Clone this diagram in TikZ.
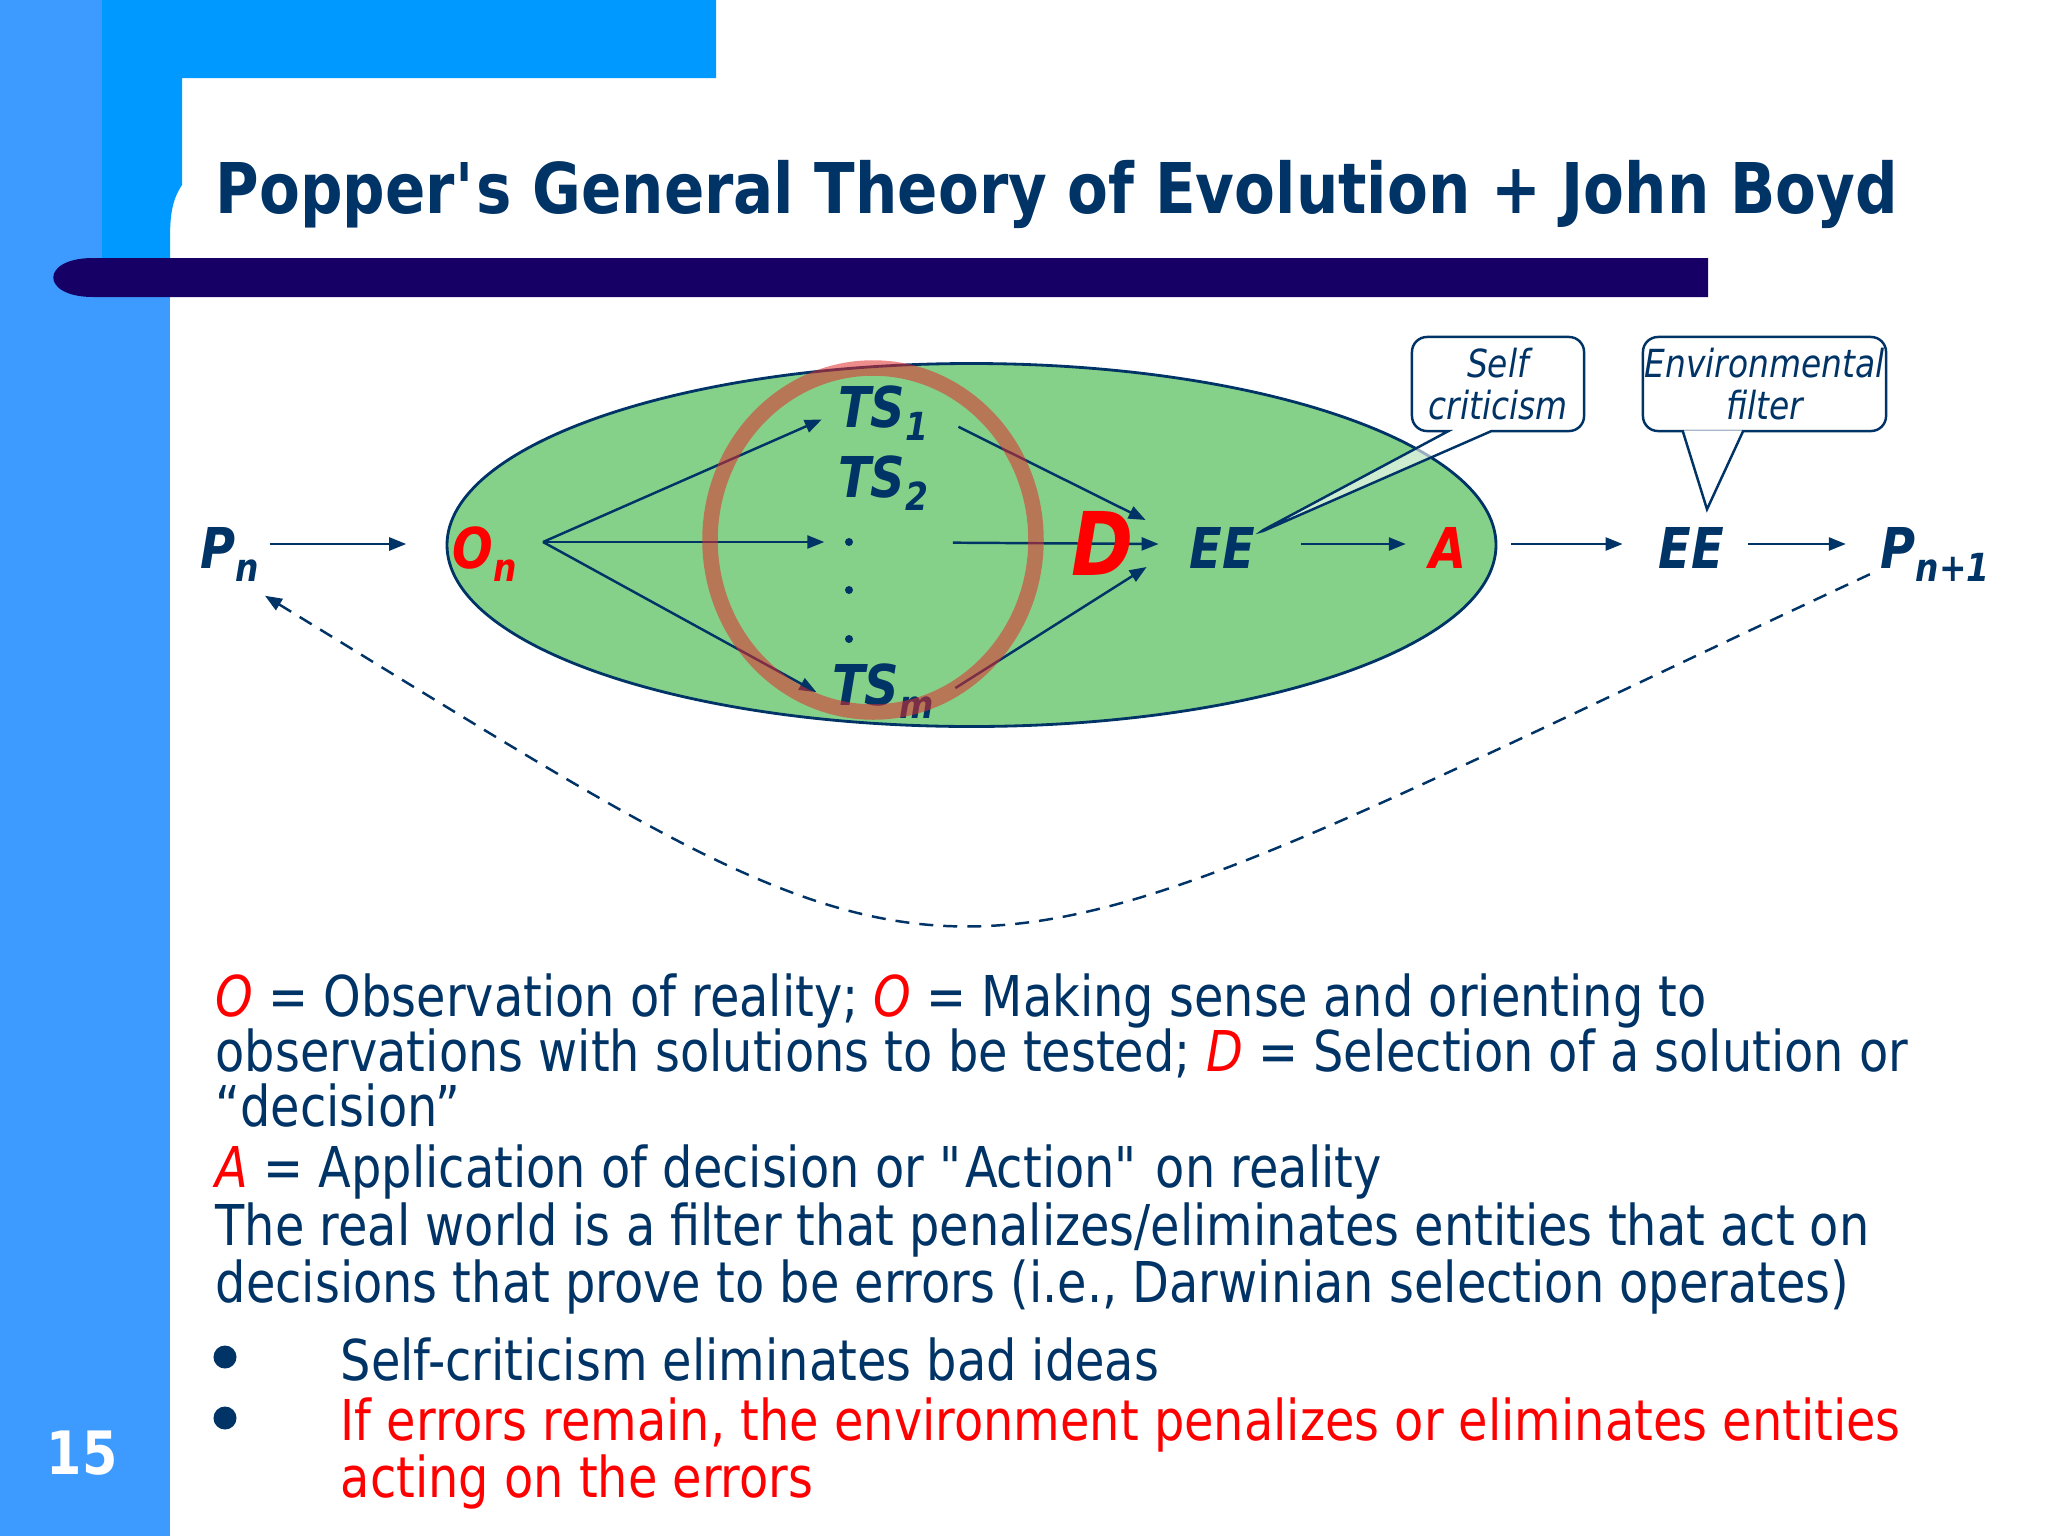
\documentclass[tikz,border=0pt]{standalone}
\usepackage{fontspec}
\setmainfont{DejaVu Sans}[FakeStretch=0.85]
\usetikzlibrary{arrows.meta,calc,shapes.callouts}

\definecolor{slidenavy}{HTML}{003366}
\definecolor{slidered}{HTML}{FF0000}
\definecolor{barindigo}{HTML}{160066}
\definecolor{stripblue}{HTML}{3D9BFF}
\definecolor{topblue}{HTML}{0099FF}
\definecolor{leafgreen}{HTML}{86D18A}
\definecolor{ringred}{RGB}{225,45,45}

\newcommand{\lowsub}[1]{\raisebox{-0.24em}{\fontsize{11}{12}\selectfont #1}}

\begin{document}
\begin{tikzpicture}[x=0.01cm,y=-0.01cm,>={Triangle[length=0.17cm,width=0.13cm]}]
	\tikzstyle{term} = [text=slidenavy,font=\bfseries\itshape\fontsize{16}{18}\selectfont,inner sep=0.1cm,text height=0.5cm,text depth=0.02cm]
	\tikzstyle{tsterm} = [term,text height=0.36cm,text depth=0.16cm]
	\tikzstyle{redterm} = [term,text=slidered]
	\tikzstyle{arr} = [->,draw=slidenavy,line width=0.7pt]
	\tikzstyle{dotmark} = [circle,fill=slidenavy,inner sep=0pt,minimum size=0.08cm]
	\tikzstyle{bubble} = [draw=slidenavy,line width=0.7pt,fill=white,rounded corners=0.15cm,text=slidenavy,font=\itshape\fontsize{11}{11.7}\selectfont,align=center,minimum height=0.94cm,inner sep=0pt]
	\tikzstyle{body} = [anchor=base west,inner sep=0pt,text=slidenavy,font=\fontsize{16}{19}\selectfont]

	% slide frame
	\useasboundingbox (0,0) rectangle (2048,1536);
	\fill[white] (0,0) rectangle (2048,1536);
	\fill[stripblue] (0,0) rectangle (170,1536);
	\fill[topblue] (102,0) -- (716,0) -- (716,78) -- (182,78) -- (182,185) .. controls (172,200) and (170,215) .. (170,240) -- (170,278) -- (102,278) -- cycle;
	\fill[barindigo] (1708,258) -- (93,258) .. controls (40,258) and (40,297) .. (93,297) -- (1708,297) -- cycle;
	\node[anchor=base west,inner sep=0pt,text=slidenavy,font=\bfseries\fontsize{19.9}{22}\selectfont] (title) at (215,213) {Popper\textquotesingle s General Theory of Evolution + John Boyd};
	\node[text=white,font=\bfseries\fontsize{17}{20}\selectfont] (pageno) at (82,1453) {15};

	% diagram
	\draw[slidenavy,fill=leafgreen,line width=0.8pt] (971.5,545) ellipse [x radius=524.5,y radius=181.5];

	\node[term] (pn) at (230,544) {P\lowsub{n}};
	\node[redterm] (on) at (485,544) {O\lowsub{n}};
	\node[tsterm] (ts1) at (883,417) {TS\lowsub{1}};
	\node[tsterm] (ts2) at (883,487) {TS\lowsub{2}};
	\node[dotmark] (d1) at (849,542) {};
	\node[dotmark] (d2) at (849,590) {};
	\node[dotmark] (d3) at (849,639) {};
	\node[tsterm] (tsm) at (883,695) {TS\lowsub{m}};
	\node[term] (ee) at (1222,544) {EE};
	\node[redterm] (a) at (1448,544) {A};
	\node[term] (ee2) at (1691,544) {EE};
	\node[term] (pn1) at (1935,544) {P\lowsub{n+1}};
	\coordinate (fan) at (543,542);

	\draw[arr,shorten >=0.36cm] (pn) -- (on);
	\draw[arr,shorten >=0.06cm] (fan) -- (ts1.west);
	\draw[arr,shorten >=0.2cm] (fan) -- (d1);
	\draw[arr,shorten >=0.06cm] (fan) -- (tsm.west);
	\draw[arr,shorten <=0.22cm] (ts1.east) -- ($(ee.west)+(-33,-24)$);
	\draw[arr,shorten <=0.99cm] (d1) -- ($(ee.west)+(-20,0)$);
	\draw[arr,shorten <=0.13cm] (tsm.east) -- ($(ee.west)+(-32,23)$);
	\draw[arr,shorten <=0.36cm,shorten >=0.13cm] (ee) -- (a);
	\draw[arr,shorten <=0.34cm,shorten >=0.25cm] (a) -- (ee2);
	\draw[arr,shorten <=0.14cm,shorten >=0.24cm] (ee2) -- (pn1);
	\draw[arr,dash pattern=on 0.14cm off 0.1cm] (pn1) .. controls (896,1028) and (1007,1049) .. ($(pn.south east)+(-5,15)$);

	\node[redterm,font=\bfseries\itshape\fontsize{25}{28}\selectfont,text height=0.64cm,text depth=0.02cm] (dsel) at (1103,544) {D};

	\node[bubble,rectangle callout,fill opacity=0.6,text opacity=1,minimum width=1.72cm,callout pointer width=0.43cm,callout absolute pointer={($(ee.north east)+(-12,28)$)}] (selfcrit) at (1498,384) {Self\\criticism};
	\node[bubble,minimum width=2.43cm] (envfilt) at (1764.5,384) {Environmental\\filter};
	\coordinate (envtip) at ($(ee2.north)+(16,2)$);
	\filldraw[slidenavy,fill=white,line width=0.7pt] ($(envfilt.south)+(-82,-2)$) -- (envtip) -- ($(envfilt.south)+(-21,-2)$);

	\draw[ringred,opacity=0.55,line width=0.155cm] (873,540) ellipse [x radius=163,y radius=172];

	% explanation text
	\node[body] (line1) at (215,1016) {\textcolor{slidered}{\itshape O} = Observation of reality; \textcolor{slidered}{\itshape O} = Making sense and orienting to};
	\node[body] (line2) at (215,1071) {observations with solutions to be tested; \textcolor{slidered}{\itshape D} = Selection of a solution or};
	\node[body] (line3) at (215,1126) {“decision”};
	\node[body] (line4) at (215,1187) {\textcolor{slidered}{\itshape A} = Application of decision or \textquotedbl Action\textquotedbl{} on reality};
	\node[body] (line5) at (215,1245) {The real world is a filter that penalizes/eliminates entities that act on};
	\node[body] (line6) at (215,1302) {decisions that prove to be errors (i.e., Darwinian selection operates)};
	\node[dotmark,minimum size=0.23cm] (b1) at (225,1357) {};
	\node[dotmark,minimum size=0.23cm] (b2) at (225,1418) {};
	\node[body] (item1) at (340,1380) {Self-criticism eliminates bad ideas};
	\node[body,text=slidered] (item2) at (340,1440) {If errors remain, the environment penalizes or eliminates entities};
	\node[body,text=slidered] (item2b) at (340,1497) {acting on the errors};
\end{tikzpicture}
\end{document}
